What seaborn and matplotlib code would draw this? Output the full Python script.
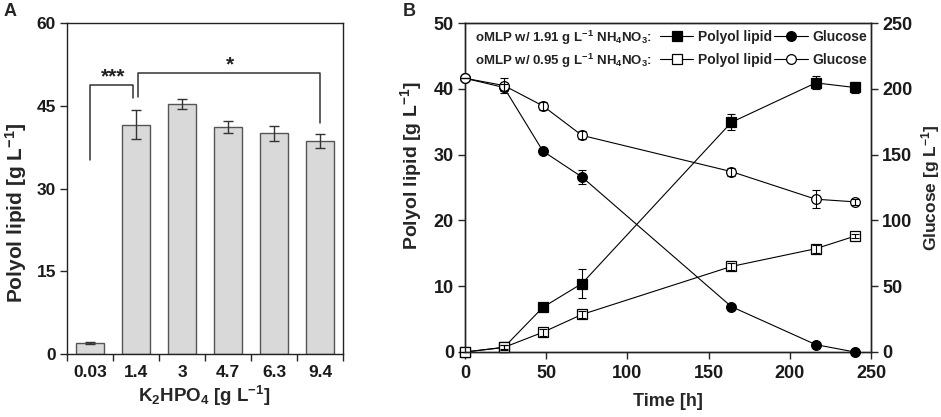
import matplotlib
matplotlib.use("Agg")
import matplotlib.pyplot as plt
from matplotlib.lines import Line2D
from matplotlib.ticker import FixedLocator
import numpy as np
import pandas as pd
import seaborn as sns

# ---------------- data ----------------
k2hpo4_labels = ["0.03", "1.4", "3", "4.7", "6.3", "9.4"]
lipid_A = [2.0, 41.6, 45.4, 41.1, 40.0, 38.6]
lipid_A_err = [0.1, 2.6, 0.9, 1.1, 1.3, 1.2]

# significance annotations: (from category, to category, label)
sig_from = ["0.03", "1.4"]
sig_to = ["1.4", "9.4"]
sig_text = ["***", "*"]

time_h = [0, 24, 48, 72, 164, 216, 240]
lipid_hi = [0.0, 0.7, 6.8, 10.4, 34.9, 40.9, 40.2]
lipid_hi_err = [0.0, 0.3, 0.3, 2.2, 1.2, 1.0, 0.9]
lipid_lo = [0.0, 0.7, 3.0, 5.7, 13.0, 15.7, 17.6]
lipid_lo_err = [0.0, 0.4, 0.5, 0.6, 0.5, 0.6, 0.3]
glc_hi = [208.0, 201.0, 152.6, 133.0, 34.5, 5.6, 0.0]
glc_hi_err = [0.0, 3.0, 1.5, 5.0, 1.5, 1.0, 0.0]
glc_lo = [208.0, 202.5, 187.0, 164.6, 137.1, 116.1, 114.1]
glc_lo_err = [0.0, 5.5, 3.0, 3.0, 3.0, 6.7, 2.5]

# ---------------- style ----------------
sns.set_style("ticks")
plt.rcParams["font.family"] = ["Liberation Sans", "DejaVu Sans"]
plt.rcParams["font.weight"] = "bold"
plt.rcParams["mathtext.fontset"] = "custom"
plt.rcParams["mathtext.rm"] = "Liberation Sans:bold"
plt.rcParams["mathtext.bf"] = "Liberation Sans:bold"
plt.rcParams["mathtext.it"] = "Liberation Sans:bold"
plt.rcParams["mathtext.default"] = "bf"
plt.rcParams["axes.linewidth"] = 1.0
plt.rcParams["axes.edgecolor"] = "#222222"

W, H = 941, 417
fig = plt.figure(figsize=(W / 100, H / 100), dpi=100)

def ax_rect(l, r, t, b):
    return [l / W, 1 - b / H, (r - l) / W, (b - t) / H]

def bold_ticks(ax):
    for lbl in ax.get_xticklabels() + ax.get_yticklabels():
        lbl.set_fontweight("bold")
        lbl.set_color("#1a1a1a")

# ---------------- panel A ----------------
axA = fig.add_axes(ax_rect(67, 343, 23, 354))
dfA = pd.DataFrame({"k2hpo4": k2hpo4_labels, "lipid": lipid_A})
sns.barplot(data=dfA, x="k2hpo4", y="lipid", order=k2hpo4_labels,
            color="#d9d9d9", edgecolor="#555555", linewidth=1.0,
            width=0.6, saturation=1, errorbar=None, ax=axA)
xpos = np.arange(len(k2hpo4_labels))
axA.errorbar(xpos, lipid_A, yerr=lipid_A_err, fmt="none", ecolor="#333333",
             elinewidth=1.0, capsize=3.5, capthick=1.0, zorder=4)
axA.set_xlim(-0.5, len(k2hpo4_labels) - 0.5)
axA.set_ylim(0, 60)
axA.set_yticks([0, 15, 30, 45, 60])
axA.tick_params(axis="y", direction="out", length=5, width=1, pad=3,
                labelsize=12.5, right=False)
axA.tick_params(axis="x", which="major", length=0, pad=8, labelsize=12.5)
axA.xaxis.set_minor_locator(FixedLocator(np.arange(-0.5, len(k2hpo4_labels), 1.0)))
axA.tick_params(axis="x", which="minor", direction="out", length=5, width=1)
for s in ["top", "right"]:
    axA.spines[s].set_visible(True)
axA.set_xlabel(r"K$_2$HPO$_4$ [g L$^{-1}$]", fontsize=13.5, fontweight="bold")
axA.set_ylabel(r"Polyol lipid [g L$^{-1}$]", fontsize=15, fontweight="bold")
axA.xaxis.set_label_coords(0.498, -0.09)
axA.yaxis.set_label_coords(-0.138, 0.426)
bold_ticks(axA)

# significance brackets
cat_index = {c: i for i, c in enumerate(k2hpo4_labels)}
br_geom = [  # (left leg bottom, top, right leg bottom, x offsets, text x, text y)
    (35.1, 48.7, 46.4, 0.0, -0.07, 0.5, 50.3),
    (46.6, 50.9, 41.9, 0.05, 0.0, 3.04, 52.4),
]
for f, t, lab, (yl, yt, yr, dxl, dxr, tx, ty) in zip(sig_from, sig_to, sig_text, br_geom):
    x0 = cat_index[f] + dxl
    x1 = cat_index[t] + dxr
    axA.plot([x0, x0, x1, x1], [yl, yt, yt, yr], color="#333333", lw=1.1,
             clip_on=False, zorder=5)
    axA.text(tx, ty, lab, ha="center", va="center", fontsize=15,
             fontweight="bold", color="#222222")

fig.text(4 / W, 1 - 12 / H, "A", fontsize=13, fontweight="bold",
         ha="left", va="center")

# ---------------- panel B ----------------
axB = fig.add_axes(ax_rect(465, 871, 23, 352))
axB2 = axB.twinx()

lw = 0.8
ms_sq = 6.5
ms_ci = 7
common = dict(color="black", linewidth=lw, markeredgecolor="black",
              markeredgewidth=0.9, clip_on=False, legend=False, errorbar=None)

sns.lineplot(x=time_h, y=lipid_hi, marker="s", markersize=ms_sq,
             markerfacecolor="black", ax=axB, zorder=3, **common)
sns.lineplot(x=time_h, y=lipid_lo, marker="s", markersize=ms_sq,
             markerfacecolor="white", ax=axB, zorder=3, **common)
axB.errorbar(time_h, lipid_hi, yerr=lipid_hi_err, fmt="none", ecolor="black",
             elinewidth=0.8, capsize=3, capthick=0.8, zorder=4, clip_on=False)
axB.errorbar(time_h, lipid_lo, yerr=lipid_lo_err, fmt="none", ecolor="black",
             elinewidth=0.8, capsize=3, capthick=0.8, zorder=4, clip_on=False)

sns.lineplot(x=time_h, y=glc_hi, marker="o", markersize=ms_ci,
             markerfacecolor="black", ax=axB2, zorder=3, **common)
sns.lineplot(x=time_h, y=glc_lo, marker="o", markersize=ms_ci,
             markerfacecolor="white", ax=axB2, zorder=3, **common)
axB2.errorbar(time_h, glc_hi, yerr=glc_hi_err, fmt="none", ecolor="black",
              elinewidth=0.8, capsize=3, capthick=0.8, zorder=4, clip_on=False)
axB2.errorbar(time_h, glc_lo, yerr=glc_lo_err, fmt="none", ecolor="black",
              elinewidth=0.8, capsize=3, capthick=0.8, zorder=4, clip_on=False)

axB.set_xlim(0, 250)
axB.set_ylim(0, 50)
axB2.set_ylim(0, 250)
axB.set_xticks([0, 50, 100, 150, 200, 250])
axB.set_yticks([0, 10, 20, 30, 40, 50])
axB2.set_yticks([0, 50, 100, 150, 200, 250])
axB.tick_params(axis="both", direction="out", length=5, width=1, pad=3,
                labelsize=13)
axB.tick_params(axis="x", pad=4)
axB2.tick_params(axis="y", direction="out", length=5, width=1, pad=3,
                 labelsize=13)
for s in ["top", "right"]:
    axB.spines[s].set_visible(True)
axB.set_xlabel("Time [h]", fontsize=13, fontweight="bold")
axB.set_ylabel(r"Polyol lipid [g L$^{-1}$]", fontsize=14, fontweight="bold")
axB2.set_ylabel(r"Glucose [g L$^{-1}$]", fontsize=12.5, fontweight="bold")
axB.xaxis.set_label_coords(0.5, -0.125)
axB.yaxis.set_label_coords(-0.1, 0.568)
axB2.yaxis.set_label_coords(1.118, 0.5)
bold_ticks(axB)
bold_ticks(axB2)

# legend
for txt, ypx in [(r"oMLP w/ 1.91 g L$^{-1}$ NH$_4$NO$_3$:", 38),
                 (r"oMLP w/ 0.95 g L$^{-1}$ NH$_4$NO$_3$:", 61)]:
    fig.text(475 / W, 1 - ypx / H, txt, fontsize=9.5, fontweight="bold",
             ha="left", va="center", color="#222222")
hkw = dict(color="black", linewidth=lw, markeredgecolor="black", markeredgewidth=0.9)
handles = [
    Line2D([], [], marker="s", markersize=ms_sq, markerfacecolor="black", **hkw),
    Line2D([], [], marker="s", markersize=ms_sq, markerfacecolor="white", **hkw),
    Line2D([], [], marker="o", markersize=ms_ci, markerfacecolor="black", **hkw),
    Line2D([], [], marker="o", markersize=ms_ci, markerfacecolor="white", **hkw),
]
labels = ["Polyol lipid", "Polyol lipid", "Glucose", "Glucose"]
leg = axB2.legend(handles, labels, ncol=2, frameon=False,
                  loc="upper left", bbox_to_anchor=(660 / W, 1 - 30 / H),
                  bbox_transform=fig.transFigure, borderpad=0, borderaxespad=0,
                  handlelength=2.4, handletextpad=0.3, columnspacing=0.2,
                  labelspacing=0.65, numpoints=1,
                  prop={"weight": "bold", "size": 10})
for t in leg.get_texts():
    t.set_color("#222222")

fig.text(403 / W, 1 - 12 / H, "B", fontsize=13, fontweight="bold",
         ha="left", va="center")

fig.savefig("out.png", dpi=100)
